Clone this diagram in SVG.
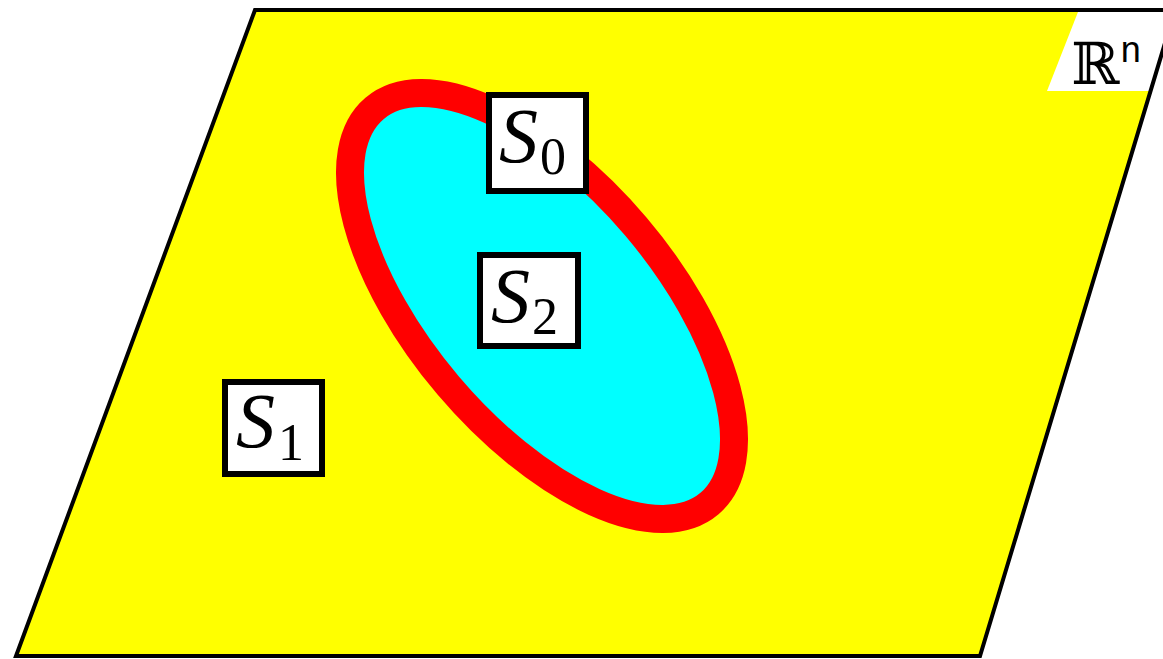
<svg xmlns="http://www.w3.org/2000/svg" width="1163" height="659" viewBox="0 0 1163 659">
<style>
.lbl{fill:#fff;stroke:#000;stroke-width:6}
.s{font-family:'Liberation Serif','Times New Roman','DejaVu Serif',serif;font-style:italic;font-size:78px;fill:#000}
.sub{font-family:'Liberation Serif','Times New Roman','DejaVu Serif',serif;font-size:52px;fill:#000}
.rr{font-family:'DejaVu Serif','DejaVu Sans',serif;font-size:58px;fill:#000}
.nn{font-family:'Liberation Mono','DejaVu Sans Mono','Courier New',monospace;font-size:36px;fill:#000}
</style>
<rect x="0" y="0" width="1163" height="659" fill="#fff"/>
<g id="plane">
<polygon points="255,10 1175,10 980,656 16,656" fill="#ffff00"/>
<polygon points="1078,12 1175,12 1151,91 1047,91" fill="#fff"/>
<text class="rr" x="1071" y="84">ℝ</text>
<text class="nn" x="1120" y="62">n</text>
<polygon points="255,10 1175,10 980,656 16,656" fill="none" stroke="#000" stroke-width="4" stroke-linejoin="miter"/>
</g>
<g id="region">
<ellipse cx="542" cy="306" rx="259" ry="123" transform="rotate(49.7 542 306)" fill="#00ffff" stroke="#ff0000" stroke-width="28"/>
</g>
<g id="S0">
<rect class="lbl" x="489" y="95" width="97" height="96"/>
<text class="s" x="499" y="162">S</text><text class="sub" x="540" y="174">0</text>
</g>
<g id="S2">
<rect class="lbl" x="480" y="255" width="98" height="91"/>
<text class="s" x="491" y="322">S</text><text class="sub" x="532" y="334">2</text>
</g>
<g id="S1">
<rect class="lbl" x="225" y="382" width="97" height="92"/>
<text class="s" x="236" y="447">S</text><text class="sub" x="278" y="460">1</text>
</g>
<g id="connectors"/>
</svg>
